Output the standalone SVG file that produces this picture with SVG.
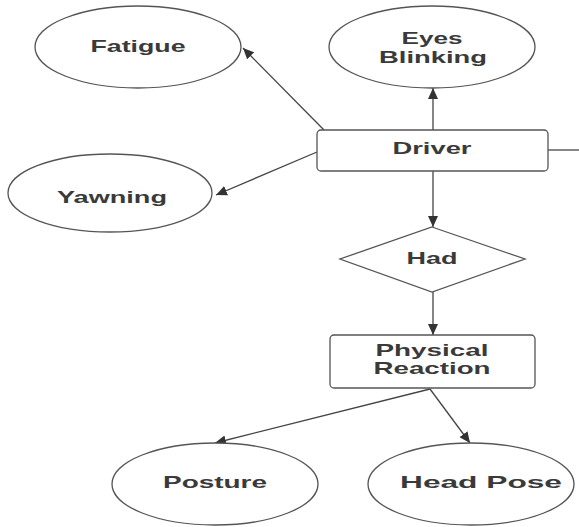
<svg xmlns="http://www.w3.org/2000/svg" width="579" height="527" viewBox="0 0 579 527">
<style>
.shape{fill:#fff;stroke:#555;stroke-width:1.3}
.lbl{font-family:"Liberation Sans",Arial,sans-serif;font-weight:bold;font-size:17px;fill:#3a3a3a;text-anchor:middle}
.edge{fill:none;stroke:#444;stroke-width:1.3}
</style>
<defs>
<marker id="ah" markerUnits="userSpaceOnUse" markerWidth="12" markerHeight="10" refX="11" refY="5" orient="auto">
<path d="M0,0 L11,5 L0,10 Z" fill="#333"/>
</marker>
</defs>
<rect width="579" height="527" fill="#fff"/>
<g id="connectors">
<line class="edge" x1="324" y1="130" x2="243" y2="48" marker-end="url(#ah)"/>
<line class="edge" x1="317" y1="152" x2="216" y2="195" marker-end="url(#ah)"/>
<line class="edge" x1="433" y1="130" x2="433" y2="88" marker-end="url(#ah)"/>
<line class="edge" x1="433" y1="171" x2="433" y2="227" marker-end="url(#ah)"/>
<line class="edge" x1="433" y1="292" x2="433" y2="335" marker-end="url(#ah)"/>
<line class="edge" x1="548" y1="150" x2="579" y2="150"/>
<line class="edge" x1="430" y1="389" x2="215" y2="443" marker-end="url(#ah)"/>
<line class="edge" x1="430" y1="389" x2="470" y2="443" marker-end="url(#ah)"/>
</g>
<g id="fatigue">
<ellipse class="shape" cx="138" cy="47" rx="103" ry="41"/>
<text class="lbl" x="138" y="52" textLength="95" lengthAdjust="spacingAndGlyphs">Fatigue</text>
</g>
<g id="eyes">
<ellipse class="shape" cx="432" cy="47" rx="103" ry="41"/>
<text class="lbl" x="432" y="44" textLength="61" lengthAdjust="spacingAndGlyphs">Eyes</text>
<text class="lbl" x="433" y="63" textLength="108" lengthAdjust="spacingAndGlyphs">Blinking</text>
</g>
<g id="yawning">
<ellipse class="shape" cx="110" cy="193" rx="102" ry="39"/>
<text class="lbl" x="112" y="203" textLength="110" lengthAdjust="spacingAndGlyphs">Yawning</text>
</g>
<g id="driver">
<rect class="shape" x="317" y="130" width="231" height="41" rx="4"/>
<text class="lbl" x="432" y="154" textLength="79" lengthAdjust="spacingAndGlyphs">Driver</text>
</g>
<g id="had">
<polygon class="shape" points="432,227 525,259 432,292 340,259"/>
<text class="lbl" x="432" y="264" textLength="51" lengthAdjust="spacingAndGlyphs">Had</text>
</g>
<g id="physical">
<rect class="shape" x="330" y="335" width="205" height="53" rx="4"/>
<text class="lbl" x="432" y="356" textLength="113" lengthAdjust="spacingAndGlyphs">Physical</text>
<text class="lbl" x="432" y="374" textLength="117" lengthAdjust="spacingAndGlyphs">Reaction</text>
</g>
<g id="posture">
<ellipse class="shape" cx="215" cy="484" rx="103" ry="41"/>
<text class="lbl" x="215" y="488" textLength="104" lengthAdjust="spacingAndGlyphs">Posture</text>
</g>
<g id="headpose">
<ellipse class="shape" cx="471" cy="484" rx="103" ry="41"/>
<text class="lbl" x="481" y="488" textLength="162" lengthAdjust="spacingAndGlyphs">Head Pose</text>
</g>
</svg>
